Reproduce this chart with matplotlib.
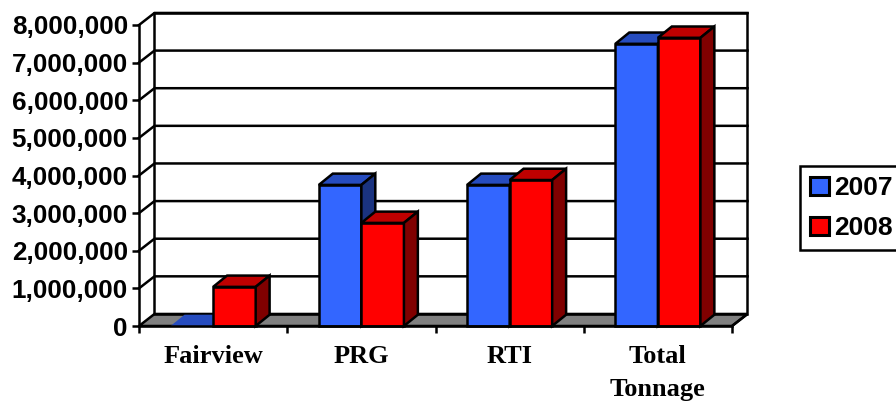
import numpy as np
import matplotlib
matplotlib.use("Agg")
import matplotlib.pyplot as plt
from matplotlib.patches import Patch, Polygon

# Chart data
categories = ["Fairview", "PRG", "RTI", "Total\nTonnage"]
values_2007 = [0, 3750000, 3750000, 7500000]
values_2008 = [1040000, 2740000, 3880000, 7660000]
y_ticks = [0, 1000000, 2000000, 3000000, 4000000, 5000000, 6000000, 7000000, 8000000]

BLUE = ("#3366FF", "#264CBF", "#1A3380")
RED = ("#FF0000", "#BF0000", "#800000")
LW = 1.8
BAR_W = 0.287
WALL_DX, WALL_DY = 0.1045, 320000
BAR_DX, BAR_DY = 0.094, 300000

W, H = 896, 401
fig = plt.figure(figsize=(W / 100, H / 100), dpi=100)
ax = fig.add_axes([139 / W, (H - 326) / H, 593 / W, 301 / H])
ax.set_xlim(-0.5, 3.5)
ax.set_ylim(0, 8000000)
ax.patch.set_visible(False)


def poly(pts, color, z, edge="black", lw=LW):
    ax.add_patch(Polygon(pts, closed=True, facecolor=color, edgecolor=edge,
                         linewidth=lw, zorder=z, clip_on=False, joinstyle="miter"))


# Floor, walls and gridlines
x0, x1 = -0.5, 3.5
poly([(x0, 0), (x1, 0), (x1 + WALL_DX, WALL_DY), (x0 + WALL_DX, WALL_DY)], "#808080", 1)
poly([(x0 + WALL_DX, WALL_DY), (x1 + WALL_DX, WALL_DY),
      (x1 + WALL_DX, 8000000 + WALL_DY), (x0 + WALL_DX, 8000000 + WALL_DY)], "none", 1)
poly([(x1, 0), (x1 + WALL_DX, WALL_DY)], "none", 1)
for t in y_ticks[1:]:
    ax.plot([x0, x0 + WALL_DX, x1 + WALL_DX], [t, t + WALL_DY, t + WALL_DY],
            color="black", lw=LW, zorder=1, clip_on=False, solid_joinstyle="miter")


def bar3d(x, val, cols):
    left, right = x, x + BAR_W
    ax.bar(left, val, BAR_W, align="edge", color=cols[0], edgecolor="black",
           linewidth=LW if val > 0 else 0, zorder=3, clip_on=False)
    poly([(left, val), (right, val), (right + BAR_DX, val + BAR_DY), (left + BAR_DX, val + BAR_DY)],
         cols[1], 3, lw=LW if val > 0 else 0)
    if val > 0:
        poly([(right, 0), (right + BAR_DX, BAR_DY), (right + BAR_DX, val + BAR_DY), (right, val)],
             cols[2], 3)


for i in range(len(categories)):
    bar3d(i - BAR_W, values_2007[i], BLUE)
    bar3d(i, values_2008[i], RED)

# Axes, ticks and text
for side in ("top", "right"):
    ax.spines[side].set_visible(False)
for side in ("left", "bottom"):
    ax.spines[side].set_linewidth(LW)
    ax.spines[side].set_zorder(4)

ax.set_yticks(y_ticks)
ax.set_yticklabels([f"{v:,}" for v in y_ticks], family="Liberation Sans",
                   fontweight="bold", fontsize=18.7)
ax.set_xticks(np.arange(-0.5, 4, 1))
ax.set_xticklabels([])
ax.set_xticks(np.arange(len(categories)), minor=True)
ax.set_xticklabels(categories, minor=True, family="Liberation Serif",
                   fontweight="bold", fontsize=19, linespacing=1.55)
ax.tick_params(axis="y", length=5, width=LW, pad=3)
ax.tick_params(axis="x", which="major", length=5, width=LW)
ax.tick_params(axis="x", which="minor", length=0, pad=14)

handles = [Patch(facecolor=BLUE[0], edgecolor="black", linewidth=2.2, label="2007"),
           Patch(facecolor=RED[0], edgecolor="black", linewidth=2.2, label="2008")]
leg = fig.legend(handles=handles, loc="upper left", bbox_to_anchor=(800 / W, 1 - 166 / H),
                 frameon=True, fancybox=False, edgecolor="black", framealpha=1,
                 prop={"family": "Liberation Sans", "weight": "bold", "size": 19},
                 handlelength=0.7, handleheight=0.7, handletextpad=0.2,
                 borderpad=0.38, labelspacing=0.62, borderaxespad=0)
leg.get_frame().set_linewidth(LW)

fig.savefig("out.png", dpi=100)
plt.close(fig)
